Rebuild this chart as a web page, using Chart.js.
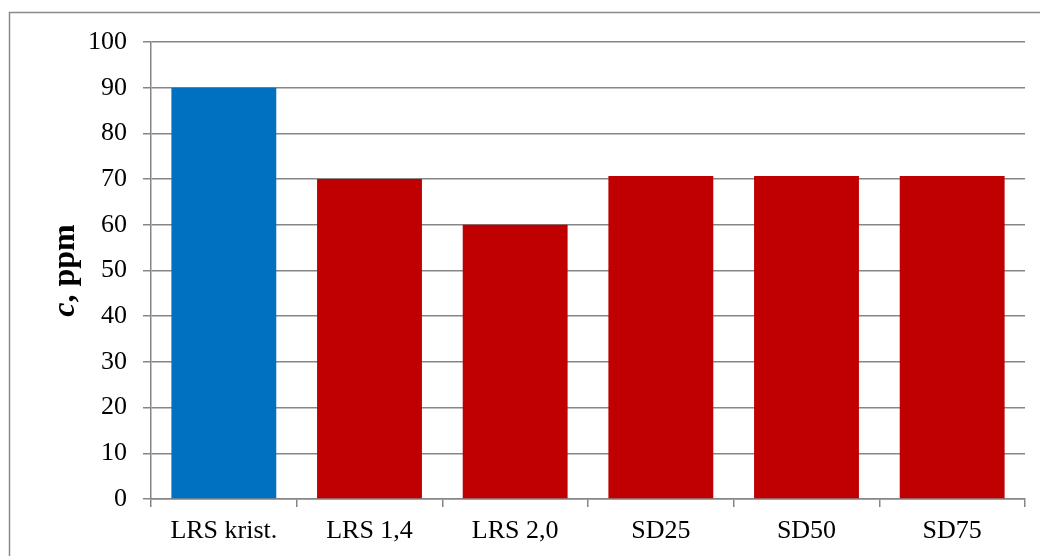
<!DOCTYPE html>
<html>
<head>
<meta charset="utf-8">
<script src="https://cdn.jsdelivr.net/npm/chart.js@4/dist/chart.umd.min.js"></script>
<style>
  html, body { margin: 0; padding: 0; background: #fff; overflow: hidden; }
  #wrap { position: relative; width: 1040px; height: 556px; }
</style>
</head>
<body>
<div id="wrap"><canvas id="chart" width="1040" height="556"></canvas></div>
<script>
// --- data ---
const categories = ["LRS krist.", "LRS 1,4", "LRS 2,0", "SD25", "SD50", "SD75"];
const values = [90, 70, 60, 70.7, 70.7, 70.7];
const barColors = ["#0070C0", "#C00000", "#C00000", "#C00000", "#C00000", "#C00000"];
const yTicks = [0, 10, 20, 30, 40, 50, 60, 70, 80, 90, 100];
const yTitleParts = [
  { text: "c", italic: true },
  { text: ", ppm", italic: false },
];

const GRID = "#868686";
const FONT = "'Liberation Serif', 'Times New Roman', serif";

// outer frame of the chart object (only top and left edges are in view)
const framePlugin = {
  id: "frame",
  beforeDraw(chart) {
    const c = chart.ctx;
    c.save();
    c.strokeStyle = "#8a8a8a";
    c.lineWidth = 1.5;
    c.beginPath();
    c.moveTo(9.5, 556);
    c.lineTo(9.5, 12.5);
    c.lineTo(1040, 12.5);
    c.stroke();
    c.restore();
  },
};

// y title with an italic "c" (Chart.js title can't mix styles)
const yTitlePlugin = {
  id: "yTitle",
  afterDraw(chart) {
    const c = chart.ctx;
    const area = chart.chartArea;
    const fontOf = (p) => (p.italic ? "italic " : "") + "bold 32px " + FONT;
    c.save();
    let total = 0;
    yTitleParts.forEach((p) => { c.font = fontOf(p); total += c.measureText(p.text).width; });
    c.translate(74, (area.top + area.bottom) / 2);
    c.rotate(-Math.PI / 2);
    c.fillStyle = "#000";
    c.textBaseline = "alphabetic";
    c.textAlign = "left";
    let x = -total / 2;
    yTitleParts.forEach((p) => {
      c.font = fontOf(p);
      c.fillText(p.text, x, 0);
      x += c.measureText(p.text).width;
    });
    c.restore();
  },
};

new Chart(document.getElementById("chart"), {
  type: "bar",
  data: {
    labels: categories,
    datasets: [{
      data: values,
      backgroundColor: barColors,
      borderWidth: 0,
      barPercentage: 0.72,
      categoryPercentage: 1,
    }],
  },
  options: {
    responsive: false,
    animation: false,
    layout: { padding: { left: 0, top: 42, right: 15, bottom: 0 } },
    plugins: { legend: { display: false }, tooltip: { enabled: false } },
    scales: {
      x: {
        afterFit: (s) => { s.height = 57; },
        grid: {
          offset: true,
          drawOnChartArea: false,
          color: GRID,
          lineWidth: 1.5,
          tickLength: 8,
        },
        border: { color: GRID, width: 1.5 },
        ticks: { color: "#000", font: { family: FONT, size: 26 }, padding: 9 },
      },
      y: {
        min: 0,
        max: 100,
        afterFit: (s) => { s.width = 151; },
        afterBuildTicks: (s) => { s.ticks = yTicks.map((v) => ({ value: v })); },
        grid: { color: GRID, lineWidth: 1.5, tickLength: 8 },
        border: { color: GRID, width: 1.5 },
        ticks: { color: "#000", font: { family: FONT, size: 26 }, padding: 16 },
      },
    },
  },
  plugins: [framePlugin, yTitlePlugin],
});
</script>
</body>
</html>
